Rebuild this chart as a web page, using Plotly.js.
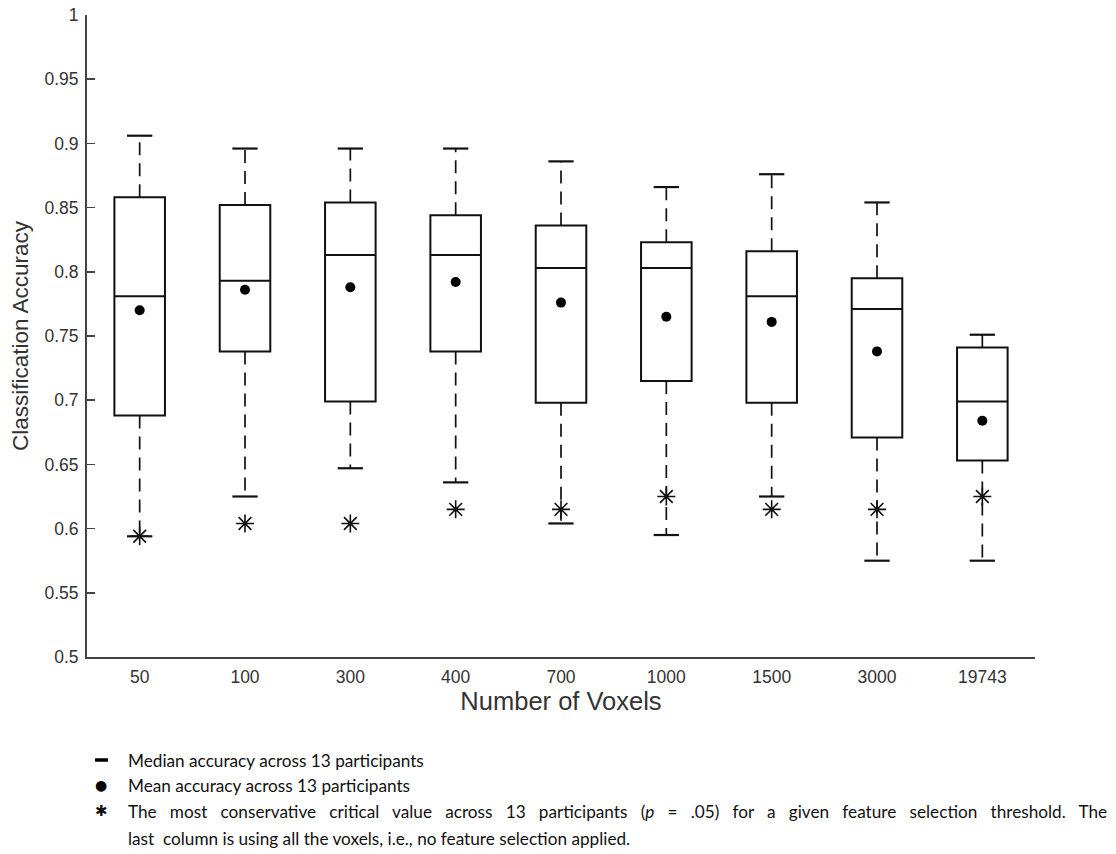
<!DOCTYPE html>
<html>
<head>
<meta charset="utf-8">
<script src="https://cdn.plot.ly/plotly-3.0.1.min.js"></script>
<style>
  html, body { margin: 0; padding: 0; background: #ffffff; }
  #chart { width: 1116px; height: 854px; }
</style>
</head>
<body>
<div id="chart"></div>
<script>
// Number of voxels kept by each feature-selection threshold
const categories = ['50', '100', '300', '400', '700', '1000', '1500', '3000', '19743'];

// Box-plot statistics of classification accuracy across 13 participants
const upperWhisker = [0.906, 0.896, 0.896, 0.896, 0.886, 0.866, 0.876, 0.854, 0.751];
const q3           = [0.858, 0.852, 0.854, 0.844, 0.836, 0.823, 0.816, 0.795, 0.741];
const median       = [0.781, 0.793, 0.813, 0.813, 0.803, 0.803, 0.781, 0.771, 0.699];
const q1           = [0.688, 0.738, 0.699, 0.738, 0.698, 0.715, 0.698, 0.671, 0.653];
const lowerWhisker = [0.594, 0.625, 0.647, 0.636, 0.604, 0.595, 0.625, 0.575, 0.575];
const meanAcc      = [0.770, 0.786, 0.788, 0.792, 0.776, 0.765, 0.761, 0.738, 0.684];
const criticalVal  = [0.594, 0.604, 0.604, 0.615, 0.615, 0.625, 0.615, 0.615, 0.625];

const yTickVals = [0.5, 0.55, 0.6, 0.65, 0.7, 0.75, 0.8, 0.85, 0.9, 0.95, 1];
const yTickText = ['0.5', '0.55', '0.6', '0.65', '0.7', '0.75', '0.8', '0.85', '0.9', '0.95', '1'];

// Caption lines; the third one is justified to the full width
const NB = '\u00a0';
const legendLines = [
  'Median accuracy across 13 participants',
  'Mean accuracy across 13 participants',
  ['The', 'most', 'conservative', 'critical', 'value', 'across', '13', 'participants',
   '(<i>p</i>', '=', '.05)', 'for', 'a', 'given', 'feature', 'selection', 'threshold.', 'The']
    .join(' ' + NB + NB),
  'last ' + NB + 'column is using all the voxels, i.e., no feature selection applied.'
];

const pos = categories.map((_, i) => i);
const BOX_W = 0.48;
const CAP_HALF = 0.12;

// Dashed whiskers: q3 -> upper, q1 -> lower
const wx = [], wy = [];
pos.forEach((p, i) => {
  wx.push(p, p, null, p, p, null);
  wy.push(q3[i], upperWhisker[i], null, q1[i], lowerWhisker[i], null);
});

// Solid whisker caps
const cx = [], cy = [];
pos.forEach((p, i) => {
  cx.push(p - CAP_HALF, p + CAP_HALF, null, p - CAP_HALF, p + CAP_HALF, null);
  cy.push(upperWhisker[i], upperWhisker[i], null, lowerWhisker[i], lowerWhisker[i], null);
});

const traces = [
  {
    type: 'scatter', mode: 'lines', x: wx, y: wy,
    line: { color: '#111', width: 1.7, dash: '13px,8px' },
    hoverinfo: 'skip', showlegend: false
  },
  {
    type: 'scatter', mode: 'lines', x: cx, y: cy,
    line: { color: '#111', width: 2.2 },
    hoverinfo: 'skip', showlegend: false
  },
  {
    type: 'box', x: pos, q1: q1, median: median, q3: q3,
    lowerfence: q1, upperfence: q3,
    width: BOX_W, whiskerwidth: 0, boxpoints: false,
    fillcolor: 'rgba(0,0,0,0)',
    line: { color: '#111', width: 2 },
    showlegend: false
  },
  {
    type: 'scatter', mode: 'markers', x: pos, y: meanAcc,
    marker: { symbol: 'circle', size: 10, color: '#000' },
    showlegend: false
  },
  {
    type: 'scatter', mode: 'markers', x: pos, y: criticalVal,
    marker: { symbol: 'asterisk-open', size: 15, color: '#111', line: { color: '#111', width: 1.6 } },
    showlegend: false
  }
];

// Plot area in pixels: left 87, right 1035, top 15, bottom 657
const L = 87, R = 1035, T = 15, B = 657;
const px2x = px => (px - L) / (R - L);
const px2y = py => (B - py) / (B - T);

const annotations = [];
const legendRowsY = [760, 785, 811, 838];
legendLines.forEach((txt, i) => {
  annotations.push({
    xref: 'paper', yref: 'paper', x: px2x(126), y: px2y(legendRowsY[i]),
    xanchor: 'left', yanchor: 'middle', showarrow: false, align: 'left',
    text: txt, font: { family: 'Lato, "Open Sans", sans-serif', size: 17.2, color: '#111' }
  });
});
annotations.push({
  xref: 'paper', yref: 'paper', x: px2x(101), y: px2y(785),
  xanchor: 'center', yanchor: 'middle', showarrow: false,
  text: '\u25CF', font: { family: 'DejaVu Sans', size: 14, color: '#000' }
});
annotations.push({
  xref: 'paper', yref: 'paper', x: px2x(101), y: px2y(811),
  xanchor: 'center', yanchor: 'middle', showarrow: false,
  text: '\u2731', font: { family: 'DejaVu Sans', size: 15, color: '#111' }
});

const shapes = [{
  type: 'line', xref: 'paper', yref: 'paper',
  x0: px2x(95), x1: px2x(108), y0: px2y(760), y1: px2y(760),
  line: { color: '#000', width: 3.5 }
}];

const layout = {
  width: 1116, height: 854,
  margin: { l: L, r: 1116 - R, t: T, b: 854 - B, pad: 0 },
  paper_bgcolor: '#fff', plot_bgcolor: '#fff',
  showlegend: false,
  font: { family: '"Liberation Sans", Arial, sans-serif', color: '#333' },
  xaxis: {
    range: [-0.5, 8.5],
    tickmode: 'array', tickvals: pos, ticktext: categories,
    showgrid: false, zeroline: false,
    showline: true, linecolor: '#444', linewidth: 2,
    ticks: '', ticklabelstandoff: 3,
    tickfont: { size: 17.5, color: '#333' },
    title: { text: 'Number of Voxels', font: { size: 25.5, color: '#333' }, standoff: 2 },
    automargin: false
  },
  yaxis: {
    range: [0.5, 1.0],
    tickmode: 'array', tickvals: yTickVals, ticktext: yTickText,
    showgrid: false, zeroline: false,
    showline: true, linecolor: '#444', linewidth: 2,
    ticks: 'inside', ticklen: 8, tickwidth: 1.5, tickcolor: '#444',
    ticklabelstandoff: 3,
    tickfont: { size: 17.5, color: '#333' },
    title: { text: 'Classification Accuracy', font: { size: 22.5, color: '#333' }, standoff: 10 },
    automargin: false
  },
  annotations: annotations,
  shapes: shapes
};

Plotly.newPlot('chart', traces, layout, { displayModeBar: false, staticPlot: true });
</script>
</body>
</html>
